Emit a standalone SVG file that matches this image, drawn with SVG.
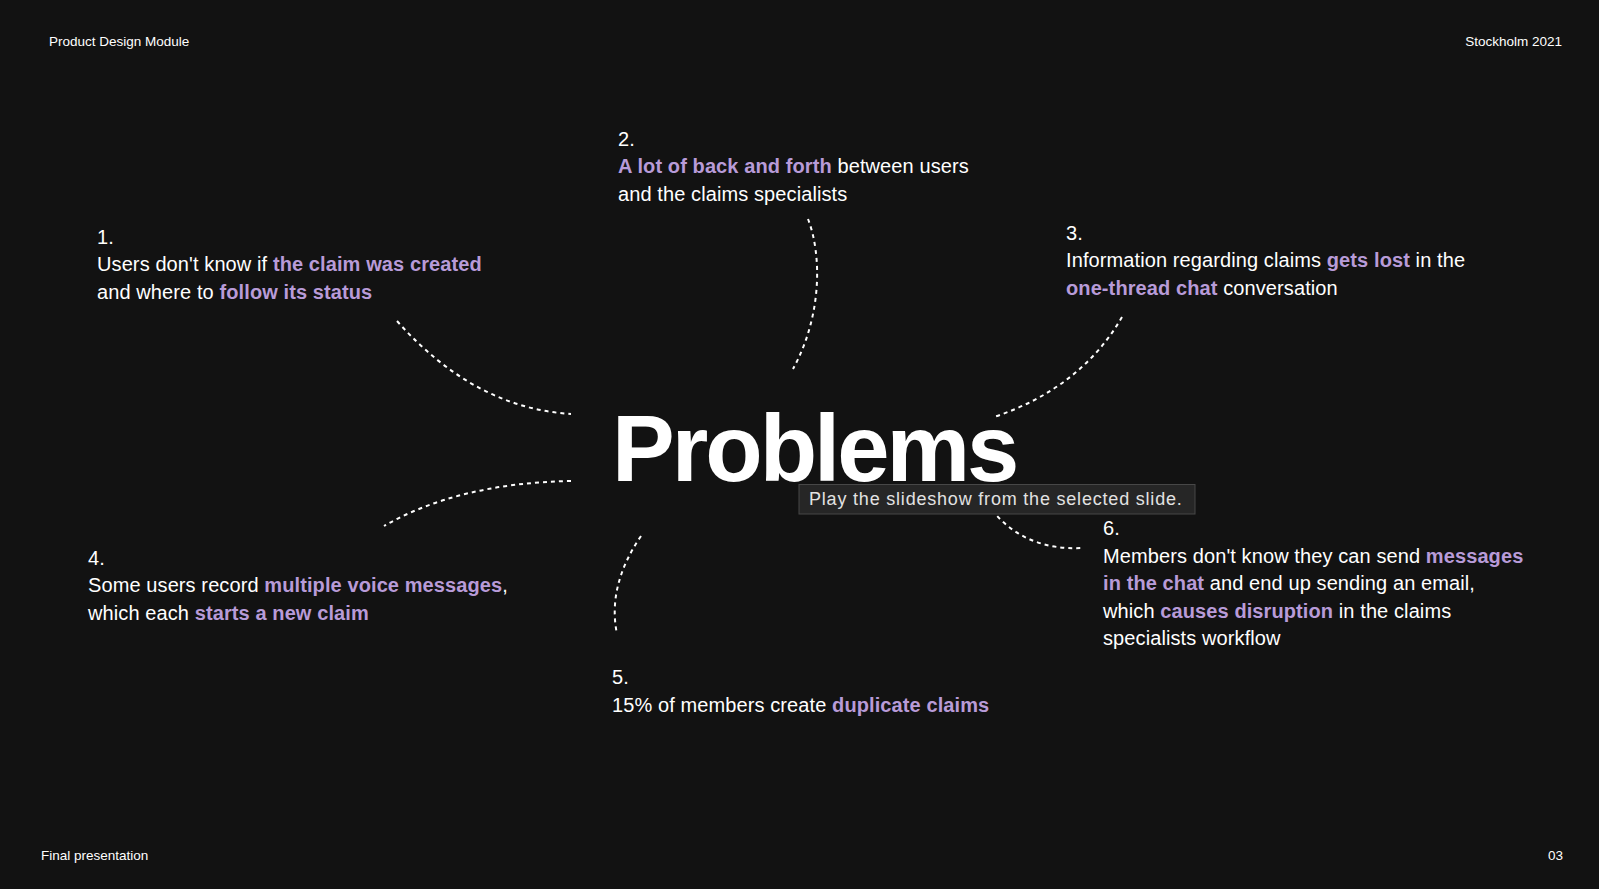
<svg xmlns="http://www.w3.org/2000/svg" width="1599" height="889" viewBox="0 0 1599 889">
<style>
.bg{fill:#121212}
.meta{font-family:"Liberation Sans",Arial,sans-serif;font-size:13.5px;fill:#ffffff}
.body{font-family:"Liberation Sans",Arial,sans-serif;font-size:20px;fill:#ffffff;letter-spacing:0.1px}
.hl{fill:#b89bd8;font-weight:bold}
.title{font-family:"Liberation Sans",Arial,sans-serif;font-size:94px;font-weight:bold;fill:#ffffff;letter-spacing:-3px}
.dash{fill:none;stroke:#ffffff;stroke-width:2;stroke-dasharray:4 4}
.tip{fill:#262626;stroke:#474747;stroke-width:1}
.tiptext{font-family:"Liberation Sans",Arial,sans-serif;font-size:18px;fill:#e2e2e2;letter-spacing:0.8px}
</style>
<rect class="bg" x="0" y="0" width="1599" height="889"/>
<g id="meta">
<text class="meta" x="49" y="46">Product Design Module</text>
<text class="meta" x="1562" y="46" text-anchor="end">Stockholm 2021</text>
<text class="meta" x="41" y="860">Final presentation</text>
<text class="meta" x="1563" y="860" text-anchor="end">03</text>
</g>
<g id="connectors">
<path class="dash" d="M397,321 Q474,408 571,414"/>
<path class="dash" d="M808,219 C822,255 822,316 793,369"/>
<path class="dash" d="M1122,317 Q1081,388 994,417"/>
<path class="dash" d="M571,481 Q459,483 384,526"/>
<path class="dash" d="M641,536 Q607,586 617,634"/>
<path class="dash" d="M992,510 Q1025,551 1083,548"/>
</g>
<g id="center">
<text class="title" x="612" y="481">Problems</text>
</g>
<g id="problem1">
<text class="body" x="97" y="244">1.</text>
<text class="body" x="97" y="271">Users don't know if <tspan class="hl">the claim was created</tspan></text>
<text class="body" x="97" y="299">and where to <tspan class="hl">follow its status</tspan></text>
</g>
<g id="problem2">
<text class="body" x="618" y="146">2.</text>
<text class="body" x="618" y="173"><tspan class="hl">A lot of back and forth</tspan> between users</text>
<text class="body" x="618" y="201">and the claims specialists</text>
</g>
<g id="problem3">
<text class="body" x="1066" y="240">3.</text>
<text class="body" x="1066" y="267">Information regarding claims <tspan class="hl">gets lost</tspan> in the</text>
<text class="body" x="1066" y="295"><tspan class="hl">one-thread chat</tspan> conversation</text>
</g>
<g id="problem4">
<text class="body" x="88" y="565">4.</text>
<text class="body" x="88" y="592">Some users record <tspan class="hl">multiple voice messages</tspan>,</text>
<text class="body" x="88" y="620">which each <tspan class="hl">starts a new claim</tspan></text>
</g>
<g id="problem5">
<text class="body" x="612" y="684">5.</text>
<text class="body" x="612" y="712">15% of members create <tspan class="hl">duplicate claims</tspan></text>
</g>
<g id="problem6">
<text class="body" x="1103" y="535">6.</text>
<text class="body" x="1103" y="563">Members don't know they can send <tspan class="hl">messages</tspan></text>
<text class="body" x="1103" y="590"><tspan class="hl">in the chat</tspan> and end up sending an email,</text>
<text class="body" x="1103" y="618">which <tspan class="hl">causes disruption</tspan> in the claims</text>
<text class="body" x="1103" y="645">specialists workflow</text>
</g>
<g id="tooltip">
<rect class="tip" x="799" y="484.5" width="396" height="29.5"/>
<text class="tiptext" x="809" y="505">Play the slideshow from the selected slide.</text>
</g>
</svg>
